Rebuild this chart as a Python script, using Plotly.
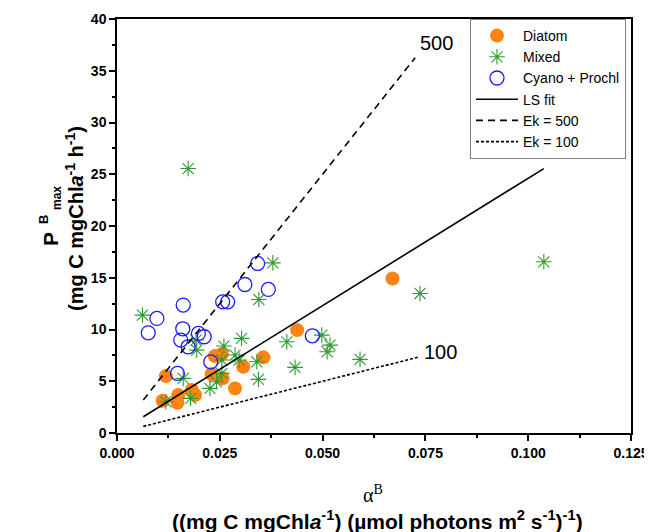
import plotly.graph_objects as go

# --- data ---
diatom_x = [0.0119, 0.0111, 0.0149, 0.0147, 0.0182, 0.0190, 0.0230, 0.0238,
            0.0255, 0.0257, 0.0307, 0.0287, 0.0356, 0.0438, 0.0670]
diatom_y = [5.50, 3.12, 3.67, 2.92, 4.15, 3.67, 5.69, 7.43,
            7.63, 5.28, 6.40, 4.31, 7.31, 9.94, 14.93]

mixed_x = [0.0062, 0.0192, 0.0194, 0.0161, 0.0119, 0.0179, 0.0226, 0.0242,
           0.0260, 0.0255, 0.0255, 0.0287, 0.0303, 0.0297, 0.0340, 0.0344,
           0.0345, 0.0379, 0.0413, 0.0433, 0.0173, 0.1038, 0.0737, 0.0591,
           0.0498, 0.0518, 0.0511]
mixed_y = [11.39, 8.98, 8.01, 5.28, 3.02, 3.35, 4.31, 4.95,
           8.40, 7.05, 5.76, 7.53, 9.14, 7.05, 6.88, 5.18,
           12.90, 16.44, 8.81, 6.34, 25.55, 16.54, 13.48, 7.11,
           9.46, 8.49, 7.85]

cyano_x = [0.0076, 0.0097, 0.0161, 0.0160, 0.0155, 0.0173, 0.0198, 0.0212,
           0.0228, 0.0147, 0.0257, 0.0269, 0.0311, 0.0342, 0.0368, 0.0475]
cyano_y = [9.68, 11.07, 12.36, 10.07, 8.98, 8.33, 9.62, 9.30,
           6.88, 5.76, 12.67, 12.67, 14.35, 16.38, 13.87, 9.39]

ls_x = [0.0064, 0.1038]
ls_y = [1.57, 25.55]
ek500_x = [0.0064, 0.0725]
ek500_y = [3.2, 36.25]
ek100_x = [0.0064, 0.0732]
ek100_y = [0.64, 7.32]

x_ticks = [0, 0.025, 0.05, 0.075, 0.1, 0.125]
x_labels = ["0.000", "0.025", "0.050", "0.075", "0.100", "0.125"]
y_ticks = [0, 5, 10, 15, 20, 25, 30, 35, 40]
y_labels = ["0", "5", "10", "15", "20", "25", "30", "35", "40"]

FONT = "Liberation Sans, Arial, sans-serif"

# page body has an 8px margin, so the figure is drawn 8px smaller
OFF = 8
W, H = 652 - OFF, 532 - OFF
# plot-area box in screenshot pixels, used to place the free-floating titles
L, R, T, B = 117, 631, 19, 433


def px(x):
    return (x - L) / (R - L)


def py(y):
    return (B - y) / (B - T)


fig = go.Figure()

fig.add_trace(go.Scatter(
    x=diatom_x, y=diatom_y, mode="markers", name="Diatom",
    marker=dict(symbol="circle", size=14, color="#fd8412", line=dict(width=0)),
))
fig.add_trace(go.Scatter(
    x=mixed_x, y=mixed_y, mode="markers", name="Mixed",
    marker=dict(symbol="asterisk-open", size=13, color="#2e9a32",
                line=dict(width=1.1, color="#2e9a32")),
))
fig.add_trace(go.Scatter(
    x=cyano_x, y=cyano_y, mode="markers", name="Cyano + Prochl",
    marker=dict(symbol="circle-open", size=14, color="#1c1cff",
                line=dict(width=1.3, color="#1c1cff")),
))
fig.add_trace(go.Scatter(
    x=ls_x, y=ls_y, mode="lines", name="LS fit",
    line=dict(color="black", width=1.6),
))
fig.add_trace(go.Scatter(
    x=ek500_x, y=ek500_y, mode="lines", name="Ek = 500",
    line=dict(color="black", width=1.6, dash="7px,5px"),
))
fig.add_trace(go.Scatter(
    x=ek100_x, y=ek100_y, mode="lines", name="Ek = 100",
    line=dict(color="black", width=1.6, dash="3px,2px"),
))

axis_common = dict(
    showline=True, linecolor="black", linewidth=1.5, mirror=True,
    ticks="outside", ticklen=6, tickwidth=1.5, tickcolor="black",
    showgrid=False, zeroline=False, automargin=False,
    tickfont=dict(family=FONT, size=14, color="black"),
)

fig.update_xaxes(
    range=[0, 0.125], tickvals=x_ticks,
    ticktext=["<b>%s</b>" % t for t in x_labels],
    minor=dict(tickvals=[0.0125, 0.0375, 0.0625, 0.0875, 0.1125],
               ticks="outside", ticklen=3, tickcolor="black"),
    **axis_common,
)
fig.update_yaxes(
    range=[0, 40], tickvals=y_ticks,
    ticktext=["<b>%s</b>" % t for t in y_labels],
    minor=dict(dtick=2.5, ticks="outside", ticklen=3, tickcolor="black"),
    **axis_common,
)


def note(x, y, text, size, angle=0, family=FONT, bold=True):
    return dict(x=px(x), y=py(y), xref="paper", yref="paper", text=text,
                textangle=angle, showarrow=False, xanchor="center", yanchor="middle",
                font=dict(family=family, size=size, color="black",
                          weight="bold" if bold else "normal"))


annotations = [
    # line labels
    dict(x=0.0778, y=37.7, xref="x", yref="y", text="500", showarrow=False,
         xanchor="center", yanchor="middle",
         font=dict(family=FONT, size=20, color="black")),
    dict(x=0.0786, y=7.8, xref="x", yref="y", text="100", showarrow=False,
         xanchor="center", yanchor="middle",
         font=dict(family=FONT, size=20, color="black")),
    # x title
    note(373, 494, "α<sup>B</sup>", 20,
         family="Liberation Serif, Times New Roman, serif", bold=False),
    note(377, 520,
         "((mg C mgChl<i>a</i><sup>-1</sup>) (µmol photons m<sup>2</sup> s<sup>-1</sup>)<sup>-1</sup>)",
         21),
    # y title
    note(51, 239, "P", 21, angle=-90),
    note(43, 220, "B", 13, angle=-90),
    note(57, 198, "max", 12, angle=-90),
    note(74, 219, "(mg C mgChl<i>a</i><sup>-1</sup> h<sup>-1</sup>)", 20, angle=-90),
]

fig.update_layout(
    width=W, height=H,
    margin=dict(l=L - OFF, r=W - (R - OFF), t=T - OFF, b=H - (B - OFF),
                autoexpand=False),
    paper_bgcolor="white", plot_bgcolor="white",
    font=dict(family=FONT, color="black"),
    showlegend=True,
    legend=dict(
        x=px(626), y=py(19), xanchor="right", yanchor="top",
        bgcolor="white", bordercolor="#808080", borderwidth=1,
        font=dict(family=FONT, size=14, color="black"),
        itemwidth=42, tracegroupgap=0,
    ),
    annotations=annotations,
)

fig.write_html("out.html")
